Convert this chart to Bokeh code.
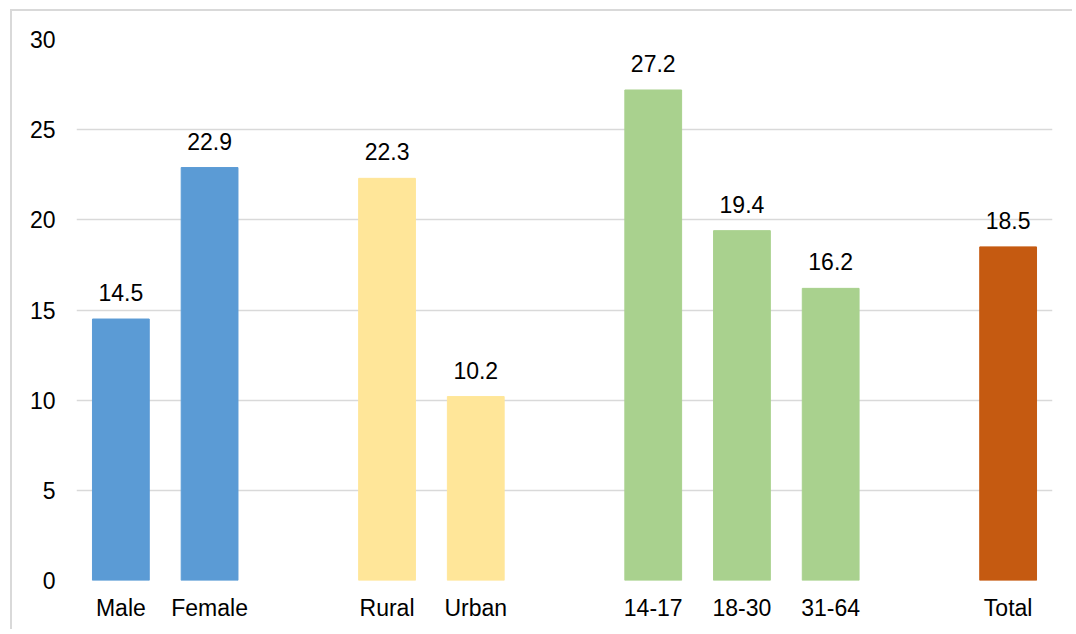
from bokeh.plotting import figure
from bokeh.models import ColumnDataSource, FixedTicker, Range1d
from bokeh.embed import file_html
from bokeh.resources import INLINE
from bokeh.core.properties import value

# ---- data ----
groups = ["Sex", "Sex", "Area", "Area", "Age", "Age", "Age", "Total"]
categories = ["Male", "Female", "Rural", "Urban", "14-17", "18-30", "31-64", "Total"]
values = [14.5, 22.9, 22.3, 10.2, 27.2, 19.4, 16.2, 18.5]
group_colors = {"Sex": "#5b9bd5", "Area": "#ffe699", "Age": "#a9d18e", "Total": "#c55a11"}
y_ticks = [0, 5, 10, 15, 20, 25, 30]

# positions: one empty slot between groups
xs = []
pos = 0
prev = None
for g in groups:
    if prev is not None and g != prev:
        pos += 1
    xs.append(pos)
    pos += 1
    prev = g
n_slots = pos

src = ColumnDataSource(dict(
    x=xs, top=values, cat=categories,
    color=[group_colors[g] for g in groups],
    label=[f"{v:.1f}" for v in values],
))

FONT = "Liberation Sans"
FS = "23px"

p = figure(width=1062, height=620, output_backend="svg", toolbar_location=None,
           x_range=Range1d(-0.5, n_slots - 0.5), y_range=Range1d(0, 30),
           min_border_left=64, min_border_top=28, min_border_right=22, min_border_bottom=51)
p.styles = {"margin-left": "10px", "margin-top": "9px",
            "border-left": "2px solid #d9d9d9", "border-top": "2px solid #d9d9d9"}
p.outline_line_color = None
p.background_fill_color = "white"
p.border_fill_color = "white"

p.vbar(x="x", top="top", width=0.64, source=src, fill_color="color", line_color="color")
p.text(x="x", y="top", text="label", source=src, text_align="center", text_baseline="bottom",
       y_offset=-18, text_font=value(FONT), text_font_size=FS, text_color="black")

# axes
p.xaxis.ticker = FixedTicker(ticks=xs)
p.xaxis.major_label_overrides = {x: c for x, c in zip(xs, categories)}
p.yaxis.ticker = FixedTicker(ticks=y_ticks)
for ax in (p.xaxis, p.yaxis):
    ax.axis_line_color = None
    ax.major_tick_line_color = None
    ax.minor_tick_line_color = None
    ax.major_label_text_font = FONT
    ax.major_label_text_font_size = FS
    ax.major_label_text_color = "black"
p.xaxis.major_label_standoff = 8
p.yaxis.major_label_standoff = 15

p.xgrid.grid_line_color = None
p.ygrid.ticker = FixedTicker(ticks=y_ticks)
p.ygrid.grid_line_color = "#d9d9d9"
p.ygrid.grid_line_width = 1.5

open("out.html", "w").write(file_html(p, INLINE))
